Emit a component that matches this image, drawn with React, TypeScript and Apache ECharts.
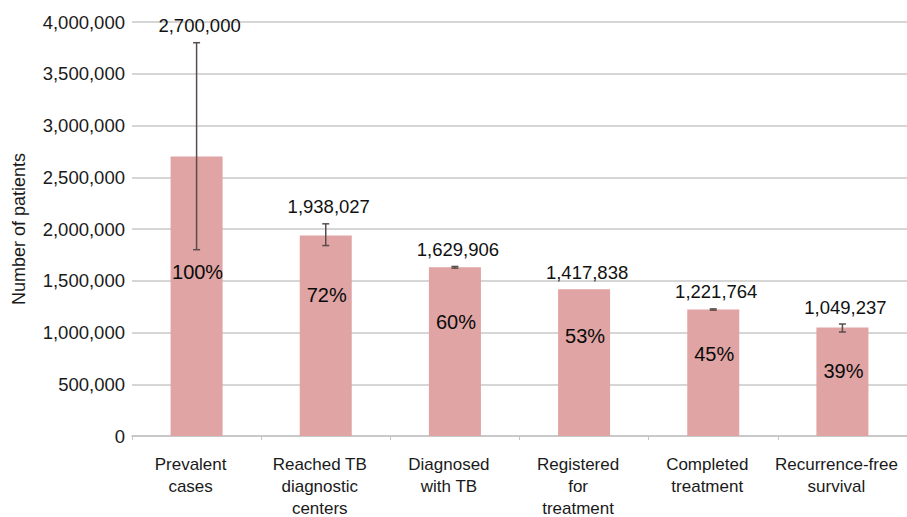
import React, { useEffect, useRef } from "react";
import * as echarts from "echarts";

const categories = [
  "Prevalent\ncases",
  "Reached TB\ndiagnostic\ncenters",
  "Diagnosed\nwith TB",
  "Registered\nfor\ntreatment",
  "Completed\ntreatment",
  "Recurrence-free\nsurvival",
];
const patients = [2700000, 1938027, 1629906, 1417838, 1221764, 1049237];
const errLow = [1800000, 1840000, 1622000, 1417838, 1216000, 1005000];
const errHigh = [3800000, 2050000, 1638000, 1417838, 1228000, 1082000];
const percentLabels = ["100%", "72%", "60%", "53%", "45%", "39%"];
// value (in patients) at which each percentage label is anchored
const percentAnchor = [1587000, 1362000, 1104000, 966000, 792000, 631000];

const FONT = "'Liberation Sans', Arial, sans-serif";

const fmt = (v: number) => v.toLocaleString("en-US");

export default function App() {
  const ref = useRef<HTMLDivElement>(null);
  useEffect(() => {
    if (!ref.current) return;
    const chart = echarts.init(ref.current, null, { renderer: "svg" });
    chart.setOption({
      animation: false,
      backgroundColor: "#ffffff",
      textStyle: { fontFamily: FONT },
      grid: {
        left: 132,
        right: 0,
        top: 22,
        bottom: 81,
        containLabel: false,
        outerBoundsMode: "none",
      },
      xAxis: {
        type: "category",
        data: categories,
        axisLine: { show: true, lineStyle: { color: "#c4c4c4", width: 1.5 } },
        axisTick: { show: true, length: 4, lineStyle: { color: "#c4c4c4" } },
        axisLabel: {
          interval: 0,
          fontSize: 17,
          lineHeight: 22,
          color: "#1a1a1a",
          margin: 17,
          padding: [0, 12, 0, 0],
          fontFamily: FONT,
        },
      },
      yAxis: {
        type: "value",
        min: 0,
        max: 4000000,
        interval: 500000,
        name: "Number of patients",
        nameLocation: "middle",
        nameGap: 104,
        nameTextStyle: { fontSize: 18, color: "#1a1a1a", fontFamily: FONT },
        axisLine: { show: false },
        axisTick: { show: false },
        axisLabel: {
          fontSize: 18.5,
          color: "#1a1a1a",
          margin: 7,
          fontFamily: FONT,
          formatter: (v: number) => fmt(v),
        },
        splitLine: { lineStyle: { color: "#c8c8c8", width: 1.5 } },
      },
      series: [
        {
          type: "bar",
          data: patients,
          barWidth: 52,
          itemStyle: { color: "#dfa4a3" },
        },
        {
          type: "custom",
          z: 5,
          data: patients.map((v, i) => [i, v, errLow[i], errHigh[i], percentAnchor[i]]),
          encode: { x: 0, y: 1 },
          renderItem: (params: any, api: any) => {
            const i = api.value(0);
            const v = api.value(1);
            const lo = api.value(2);
            const hi = api.value(3);
            const pa = api.value(4);
            const pHi = api.coord([i, hi]);
            const pLo = api.coord([i, lo]);
            const pPct = api.coord([i, pa]);
            const cap = 3.5;
            const children: any[] = [];
            const stroke = { stroke: "#5b4c4c", lineWidth: 1.5 };
            if (hi > lo) {
              children.push(
                { type: "line", shape: { x1: pHi[0], y1: pHi[1], x2: pLo[0], y2: pLo[1] }, style: stroke },
                { type: "line", shape: { x1: pHi[0] - cap, y1: pHi[1], x2: pHi[0] + cap, y2: pHi[1] }, style: stroke },
                { type: "line", shape: { x1: pLo[0] - cap, y1: pLo[1], x2: pLo[0] + cap, y2: pLo[1] }, style: stroke }
              );
            }
            children.push({
              type: "text",
              x: pHi[0] + 3,
              y: pHi[1] - 17,
              style: {
                text: fmt(v),
                fontSize: 18.5,
                fontFamily: FONT,
                fill: "#111111",
                align: "center",
                verticalAlign: "middle",
              },
            });
            children.push({
              type: "text",
              x: pPct[0] + 1,
              y: pPct[1],
              style: {
                text: percentLabels[i],
                fontSize: 20,
                fontFamily: FONT,
                fill: "#0a0a0a",
                align: "center",
                verticalAlign: "middle",
              },
            });
            return { type: "group", children };
          },
        },
      ],
    });
    return () => chart.dispose();
  }, []);
  return (
    <div
      ref={ref}
      style={{ position: "fixed", left: 0, top: 0, width: 907, height: 517, background: "#fff" }}
    />
  );
}
